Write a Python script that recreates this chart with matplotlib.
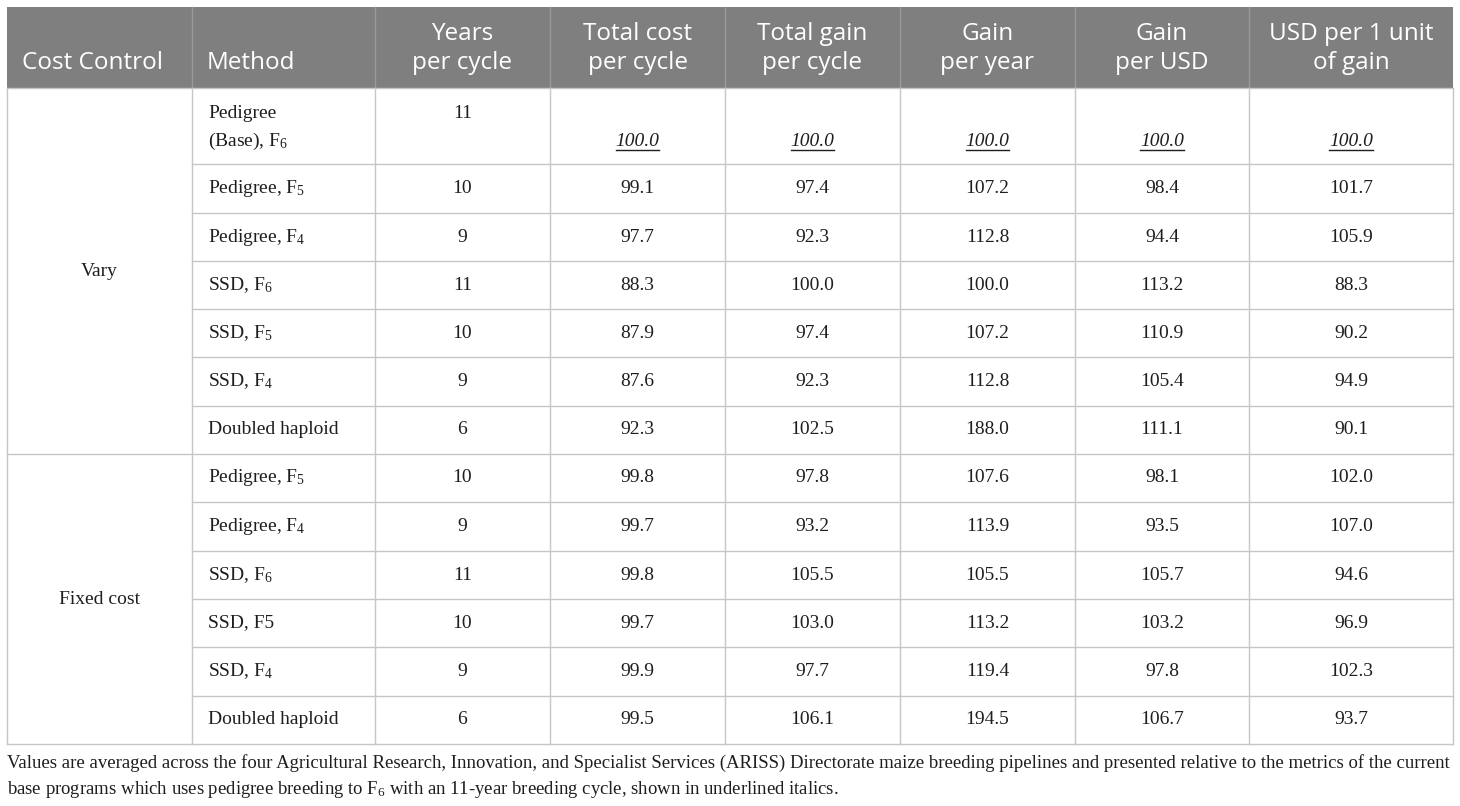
import numpy as np
import matplotlib.pyplot as plt
from matplotlib.lines import Line2D

plt.rcParams['mathtext.fontset'] = 'custom'
plt.rcParams['mathtext.rm'] = 'Liberation Serif'
plt.rcParams['mathtext.it'] = 'Liberation Serif:italic'

# ---- table data ----
headers = ["Cost Control", "Method", "Years\nper cycle", "Total cost\nper cycle",
           "Total gain\nper cycle", "Gain\nper year", "Gain\nper USD",
           "USD per 1 unit\nof gain"]

groups = ["Vary", "Fixed cost"]
group_sizes = [7, 6]

methods = ["Pedigree\n(Base), F$_6$", "Pedigree, F$_5$", "Pedigree, F$_4$",
           "SSD, F$_6$", "SSD, F$_5$", "SSD, F$_4$", "Doubled haploid",
           "Pedigree, F$_5$", "Pedigree, F$_4$", "SSD, F$_6$", "SSD, F5",
           "SSD, F$_4$", "Doubled haploid"]
years = [11, 10, 9, 11, 10, 9, 6, 10, 9, 11, 10, 9, 6]
total_cost = [100.0, 99.1, 97.7, 88.3, 87.9, 87.6, 92.3, 99.8, 99.7, 99.8, 99.7, 99.9, 99.5]
total_gain = [100.0, 97.4, 92.3, 100.0, 97.4, 92.3, 102.5, 97.8, 93.2, 105.5, 103.0, 97.7, 106.1]
gain_year = [100.0, 107.2, 112.8, 100.0, 107.2, 112.8, 188.0, 107.6, 113.9, 105.5, 113.2, 119.4, 194.5]
gain_usd = [100.0, 98.4, 94.4, 113.2, 110.9, 105.4, 111.1, 98.1, 93.5, 105.7, 103.2, 97.8, 106.7]
usd_unit = [100.0, 101.7, 105.9, 88.3, 90.2, 94.9, 90.1, 102.0, 107.0, 94.6, 96.9, 102.3, 93.7]

footnote = ("Values are averaged across the four Agricultural Research, Innovation, and Specialist Services (ARISS) "
            "Directorate maize breeding pipelines and presented relative to the metrics of the current\n"
            "base programs which uses pedigree breeding to F$_6$ with an 11-year breeding cycle, shown in underlined italics.")

# ---- layout (pixels) ----
W, H = 1460, 806
col_x = [7, 192, 375, 550, 725, 900, 1075, 1249, 1453]
head_top, head_bot = 7, 88
row_y = [88, 164, 213, 261, 309, 357, 406, 454, 502, 551, 599, 647, 696, 744]

head_bg = '#7f7f7f'
grid_c = '#c6c6c6'
txt_c = '#1e1e1e'
serif = 'Liberation Serif'
sans = 'Open Sans'
fs_body = 14
fs_head = 17.5

fig = plt.figure(figsize=(W / 100, H / 100), dpi=100)
ax = fig.add_axes([0, 0, 1, 1])
ax.set_xlim(0, W)
ax.set_ylim(H, 0)
ax.axis('off')

# header
ax.add_patch(plt.Rectangle((col_x[0], head_top), col_x[-1] - col_x[0], head_bot - head_top,
                           color=head_bg, lw=0))
for x in col_x[1:-1]:
    ax.add_line(Line2D([x, x], [head_top, head_bot], color='#9a9a9a', lw=1))
for i, h in enumerate(headers):
    lines = h.split("\n")
    if i < 2:
        ax.text(col_x[i] + 15, 63, lines[0], color='white', fontsize=fs_head, family=sans,
                ha='left', va='center')
    else:
        cx = (col_x[i] + col_x[i + 1]) / 2
        ax.text(cx, 34, lines[0], color='white', fontsize=fs_head, family=sans, ha='center', va='center')
        ax.text(cx, 63, lines[1], color='white', fontsize=fs_head, family=sans, ha='center', va='center')

# grid lines
for x in col_x:
    ax.add_line(Line2D([x, x], [head_bot, row_y[-1]], color=grid_c, lw=1))
group_edges = np.cumsum([0] + group_sizes)
for k, y in enumerate(row_y):
    x0 = col_x[0] if k in group_edges else col_x[1]
    ax.add_line(Line2D([x0, col_x[-1]], [y, y], color=grid_c, lw=1))

# group labels
for g, name in enumerate(groups):
    yc = (row_y[group_edges[g]] + row_y[group_edges[g + 1]]) / 2
    ax.text((col_x[0] + col_x[1]) / 2, yc, name, fontsize=fs_body, family=serif, color=txt_c,
            ha='center', va='center')

fig.canvas.draw()
renderer = fig.canvas.get_renderer()

value_cols = [total_cost, total_gain, gain_year, gain_usd, usd_unit]
for r in range(len(methods)):
    yc = (row_y[r] + row_y[r + 1]) / 2
    if r == 0:
        # base row: two-line method, years on first line, values underlined italics
        l1, l2 = methods[r].split("\n")
        ax.text(col_x[1] + 16, 113, l1, fontsize=fs_body, family=serif, color=txt_c, ha='left', va='center')
        ax.text(col_x[1] + 16, 141, l2, fontsize=fs_body, family=serif, color=txt_c, ha='left', va='center')
        ax.text((col_x[2] + col_x[3]) / 2, 113, str(years[r]), fontsize=fs_body, family=serif,
                color=txt_c, ha='center', va='center')
        for j, vals in enumerate(value_cols):
            cx = (col_x[3 + j] + col_x[4 + j]) / 2
            t = ax.text(cx, 141, f"{vals[r]:.1f}", fontsize=fs_body, family=serif, style='italic',
                        color=txt_c, ha='center', va='center')
            bb = t.get_window_extent(renderer)
            ax.add_line(Line2D([bb.x0, bb.x1], [150, 150], color=txt_c, lw=1))
    else:
        ax.text(col_x[1] + 16, yc, methods[r], fontsize=fs_body, family=serif, color=txt_c,
                ha='left', va='center')
        ax.text((col_x[2] + col_x[3]) / 2, yc, str(years[r]), fontsize=fs_body, family=serif,
                color=txt_c, ha='center', va='center')
        for j, vals in enumerate(value_cols):
            cx = (col_x[3 + j] + col_x[4 + j]) / 2
            ax.text(cx, yc, f"{vals[r]:.1f}", fontsize=fs_body, family=serif, color=txt_c,
                    ha='center', va='center')

ax.text(col_x[0], 754, footnote, fontsize=13.5, family=serif, color=txt_c, ha='left', va='top',
        linespacing=1.5)

plt.savefig("out.png", dpi=100)
